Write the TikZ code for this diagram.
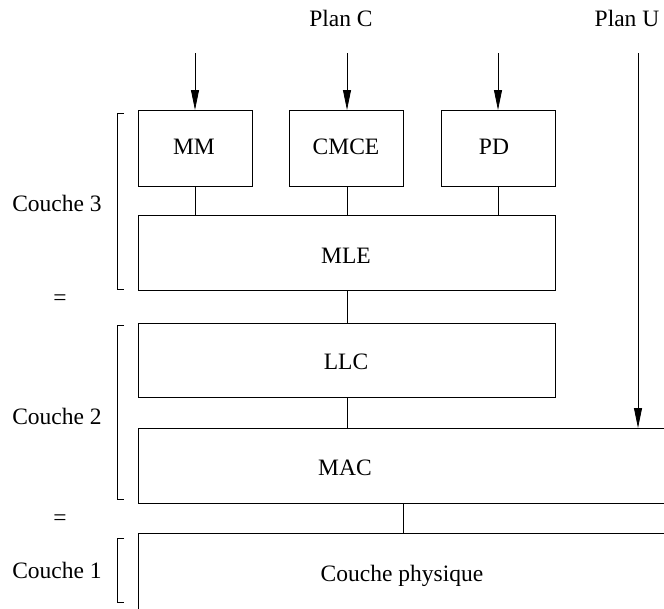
\documentclass[tikz,border=0pt]{standalone}
\usepackage{fontspec}
\setmainfont{Liberation Serif}
\usetikzlibrary{arrows.meta}
\begin{document}
\begin{tikzpicture}[x=1pt,y=-1pt,
  line width=0.8pt,
  lbl/.style={font=\fontsize{23.5}{27}\selectfont, inner sep=0pt, anchor=base},
  sym/.style={font=\fontsize{23.5}{27}\selectfont, inner sep=0pt},
  blk/.style={draw, rectangle, inner sep=0pt, anchor=north west},
  flow/.style={-{Triangle[length=20pt,width=8pt]}}]
\useasboundingbox (0,0) rectangle (664,608);

% protocol blocks
\node[blk, minimum width=114pt, minimum height=76pt] (mm)   at (138,110) {};
\node[blk, minimum width=114pt, minimum height=76pt] (cmce) at (289,110) {};
\node[blk, minimum width=114pt, minimum height=76pt] (pd)   at (441,110) {};
\node[blk, minimum width=417pt, minimum height=75pt] (mle)  at (138,215) {};
\node[blk, minimum width=417pt, minimum height=74pt] (llc)  at (138,323) {};
\node[blk, minimum width=560pt, minimum height=75pt] (mac)  at (138,428) {};
\node[blk, minimum width=560pt, minimum height=100pt] (phy) at (138,533) {};

% block captions
\node[lbl] (tmm)   at (194,154) {MM};
\node[lbl] (tcmce) at (346,154) {CMCE};
\node[lbl] (tpd)   at (494,154) {PD};
\node[lbl] (tmle)  at (346,263) {MLE};
\node[lbl] (tllc)  at (346,369) {LLC};
\node[lbl] (tmac)  at (345,475) {MAC};
\node[lbl] (tphy)  at (402,581) {Couche physique};

% plane labels
\node[lbl] (planc) at (341,26) {Plan C};
\node[lbl] (planu) at (627,26) {Plan U};

% incoming control/user plane arrows
\coordinate (inmm)   at (195,53);
\coordinate (incmce) at (347,53);
\coordinate (inpd)   at (498,53);
\coordinate (inu)    at (638,53);
\draw[flow] (inmm) -- (inmm |- mm.north);
\draw[flow] (incmce) -- (incmce |- cmce.north);
\draw[flow] (inpd) -- (inpd |- pd.north);
\draw[flow] (inu) -- (inu |- mac.north);

% vertical links between layers
\draw (inmm |- mm.south) -- (inmm |- mle.north);
\draw (incmce |- cmce.south) -- (incmce |- mle.north);
\draw (inpd |- pd.south) -- (inpd |- mle.north);
\draw (incmce |- mle.south) -- (incmce |- llc.north);
\draw (incmce |- llc.south) -- (incmce |- mac.north);
\coordinate (macphy) at (403,0);
\draw (macphy |- mac.south) -- (macphy |- phy.north);

% layer brackets
\draw (124,113) -- (117,113) -- (117,289) -- (124,289);
\draw (124,325) -- (117,325) -- (117,499) -- (124,499);
\draw (124,538) -- (117,538) -- (117,602) -- (124,602);

% layer names
\node[lbl] (c3) at (57,211) {Couche 3};
\node[lbl] (c2) at (57,424) {Couche 2};
\node[lbl] (c1) at (57,578) {Couche 1};
\node[sym] (eq32) at (60,300) {=};
\node[sym] (eq21) at (60,520) {=};
\end{tikzpicture}
\end{document}
